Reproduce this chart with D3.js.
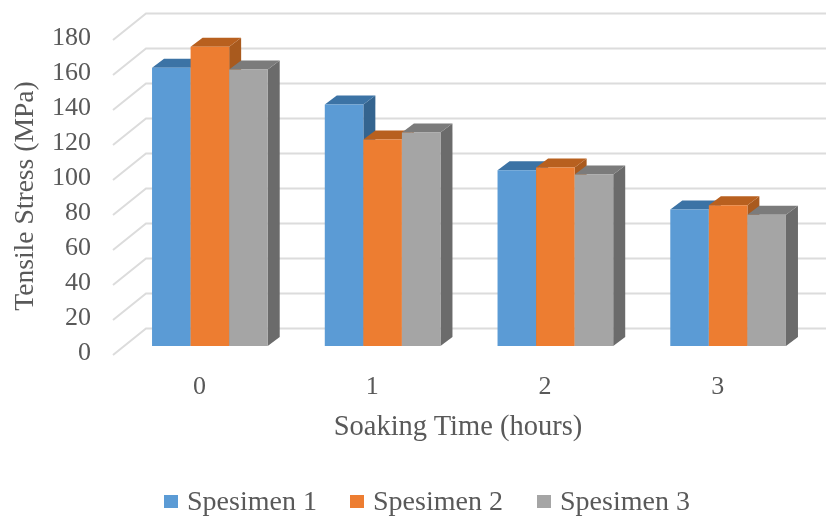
<!DOCTYPE html>
<html>
<head>
    <meta charset="utf-8">
    <script src="https://cdn.jsdelivr.net/npm/d3@7"></script>
    <style>
        html, body { margin: 0; background: #fff; }
        svg { display: block; filter: blur(0.6px); }
        .chart text { font-family: "Liberation Serif", serif; fill: #595959; }
        .grid { stroke: #dcdcdc; stroke-width: 2; fill: none; }
    </style>
</head>
<body>
<svg class="chart"></svg>
<script type="text/javascript">
    var categories = ["0", "1", "2", "3"];
    var seriesNames = ["Spesimen 1", "Spesimen 2", "Spesimen 3"];
    var spesimen1 = [159, 138, 100.5, 78];
    var spesimen2 = [171, 118, 102, 80.5];
    var spesimen3 = [158, 122, 98, 75];
    var seriesValues = [spesimen1, spesimen2, spesimen3];
    var yTicks = [0, 20, 40, 60, 80, 100, 120, 140, 160, 180];

    var frontColors = ["#5b9bd5", "#ed7d31", "#a5a5a5"];
    var topColors = ["#3c73a5", "#b8601f", "#7b7b7b"];
    var sideColors = ["#34648f", "#a95a1e", "#6b6b6b"];

    var width = 826, height = 516;
    // 3d box: floor depth and where the bars sit inside it
    var depthX = 33, depthY = -26.5;
    var barOffX = 10.5, barOffY = -9;
    var barDepthX = 12, barDepthY = -9;

    var x = d3.scaleBand().domain(categories).range([113, 804]);
    var inner = d3.scaleBand().domain(d3.range(3)).range([0, x.bandwidth()]).paddingOuter(0.74).paddingInner(0);
    var y = d3.scaleLinear().domain([0, 180]).range([355, 40]);

    var chart = d3.select(".chart").attr("width", width).attr("height", height);

    // back wall gridlines and the slanted lines on the left wall
    var grid = chart.append("g");
    yTicks.forEach(function (t) {
        grid.append("polyline").attr("class", "grid")
            .attr("points", [
                [x.range()[0], y(t)],
                [x.range()[0] + depthX, y(t) + depthY],
                [x.range()[1] + depthX, y(t) + depthY]
            ].join(" "));
    });

    // bars
    var poly = function (g, pts, fill) {
        g.append("polygon").attr("points", pts.join(" ")).attr("fill", fill);
    };
    var bars = chart.append("g");
    categories.forEach(function (c, i) {
        seriesValues.forEach(function (vals, s) {
            var x0 = x(c) + inner(s) + barOffX;
            var x1 = x0 + inner.bandwidth();
            var yTop = y(vals[i]) + barOffY;
            var yBase = y(0) + barOffY;
            var g = bars.append("g");
            poly(g, [[x1, yTop], [x1 + barDepthX, yTop + barDepthY], [x1 + barDepthX, yBase + barDepthY], [x1, yBase]], sideColors[s]);
            poly(g, [[x0, yTop], [x0 + barDepthX, yTop + barDepthY], [x1 + barDepthX, yTop + barDepthY], [x1, yTop]], topColors[s]);
            poly(g, [[x0, yTop], [x1, yTop], [x1, yBase], [x0, yBase]], frontColors[s]);
        });
    });

    // axes
    var axisY = d3.axisLeft(y).tickValues(yTicks).tickSize(0).tickPadding(0);
    var gy = chart.append("g").attr("transform", "translate(91,-4)").call(axisY);
    gy.select(".domain").remove();
    gy.selectAll("text").attr("font-size", 26);
    gy.attr("font-family", null);

    var axisX = d3.axisBottom(x).tickSize(0).tickPadding(0);
    var gx = chart.append("g").attr("transform", "translate(0,376)").call(axisX);
    gx.select(".domain").remove();
    gx.selectAll("text").attr("font-size", 26);
    gx.attr("font-family", null);

    chart.append("text")
        .attr("transform", "translate(33,196) rotate(-90)")
        .attr("text-anchor", "middle")
        .attr("font-size", 27.6)
        .text("Tensile Stress (MPa)");

    chart.append("text")
        .attr("x", 458).attr("y", 435)
        .attr("text-anchor", "middle")
        .attr("font-size", 28.5)
        .text("Soaking Time (hours)");

    // legend
    var legendX = [164, 350, 537];
    seriesNames.forEach(function (name, s) {
        chart.append("rect")
            .attr("x", legendX[s]).attr("y", 495)
            .attr("width", 14).attr("height", 13)
            .attr("fill", frontColors[s]);
        chart.append("text")
            .attr("x", legendX[s] + 23).attr("y", 510)
            .attr("font-size", 28)
            .text(name);
    });
</script>
</body>
</html>
